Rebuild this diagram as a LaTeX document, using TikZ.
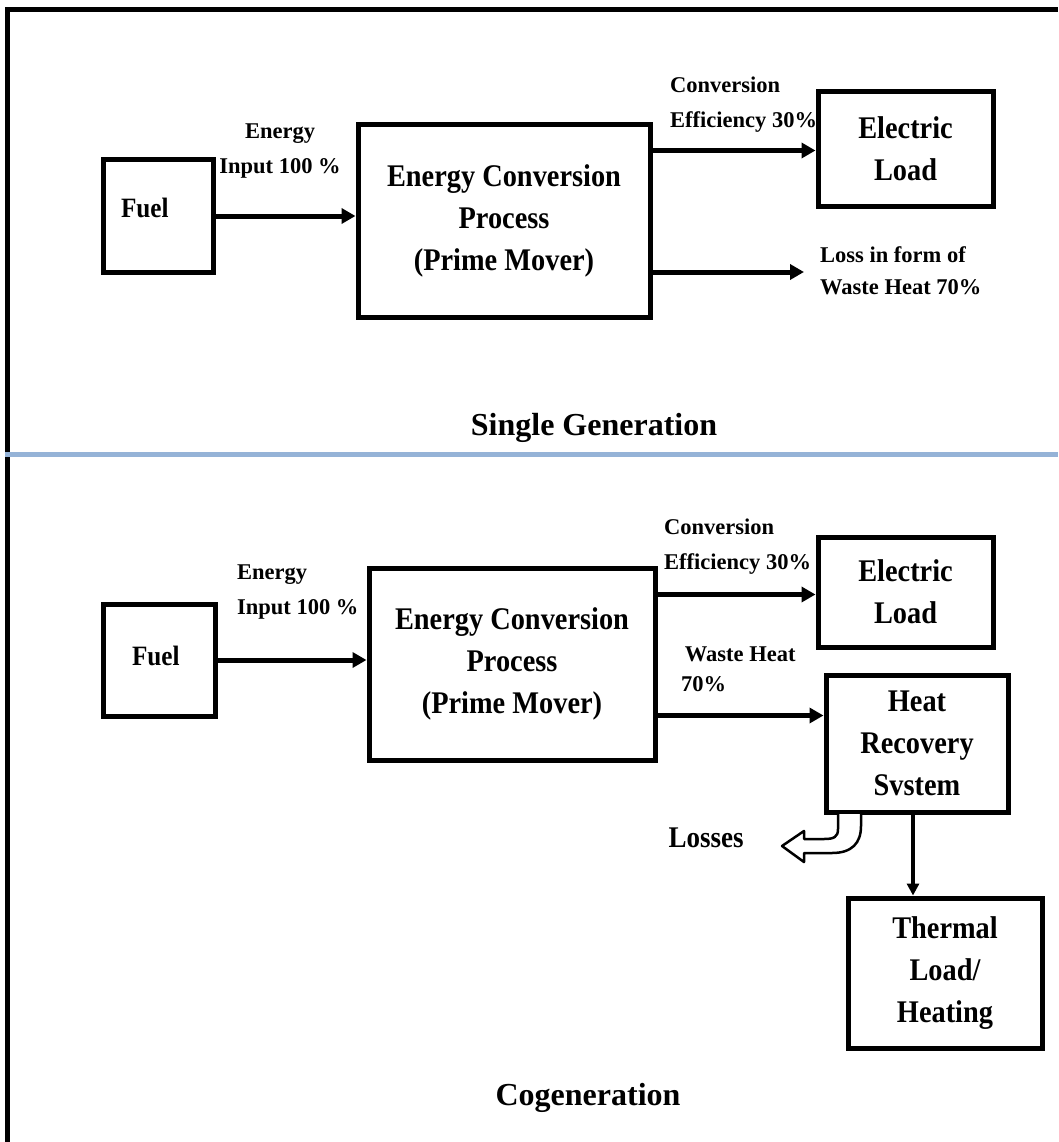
\documentclass[tikz,border=0pt]{standalone}
\usepackage{fontspec}
\setmainfont{Liberation Serif}
\newfontfamily\narrowserif{Liberation Serif}[FakeStretch=0.9]
\usetikzlibrary{arrows.meta}
\definecolor{sepblue}{RGB}{149,179,215}
\newcommand\bigtxt{\narrowserif\fontsize{31.5}{42}\selectfont\bfseries}
\newcommand\fueltxt{\narrowserif\fontsize{28}{32}\selectfont\bfseries}
\newcommand\smalltxt{\fontsize{22.5}{35}\selectfont\bfseries}
\newcommand\titletxt{\fontsize{32}{38}\selectfont\bfseries}
\begin{document}
\begin{tikzpicture}[x=1pt,y=-1pt,
	box/.style={draw,line width=5pt,align=center,inner sep=0pt,font=\bigtxt},
	lbl/.style={align=left,inner sep=0pt,font=\smalltxt},
	flow/.style={line width=5pt,-{Triangle[length=14pt,width=15pt]}},
	thin flow/.style={line width=3.5pt,-{Triangle[length=12pt,width=12pt]}},
	hollow/.style={line width=2.5pt,fill=white,line join=round}]
\useasboundingbox (0,0) rectangle (1058,1142);
% frame and separator
\draw[line width=5pt] (7,1142) -- (7,9.5) -- (1058,9.5);
\draw[line width=5pt,sepblue] (5,454.5) -- (1058,454.5);

% single generation
\node[box,minimum width=110pt,minimum height=112pt,
	label={[font=\fueltxt,anchor=west,xshift=17pt,yshift=8pt]west:Fuel}] (fuel1) at (158,216) {};
\node[box,minimum width=292pt,minimum height=192pt] (ecp1) at (504,221) {Energy Conversion\\Process\\(Prime Mover)};
\node[box,minimum width=175pt,minimum height=114pt] (elec1) at (905.5,149) {Electric\\Load};
\coordinate (loss1) at (804,272);
\draw[flow] (fuel1.east) -- (fuel1.east -| ecp1.west);
\draw[flow] ([yshift=-28pt]ecp1.north east) -- ([yshift=-28pt]ecp1.north east -| elec1.west);
\draw[flow] (ecp1.east |- loss1) -- (loss1);
\node[lbl,align=center] (in1) at (280,151) {Energy\\Input 100 \%};
\node[lbl,anchor=west] (eff1) at (670,105) {Conversion\\Efficiency 30\%};
\node[lbl,anchor=west,font=\fontsize{22.5}{32}\selectfont\bfseries] (waste1) at (820,271) {Loss in form of\\Waste Heat 70\%};
\node[font=\titletxt] (title1) at (594,428) {Single Generation};

% cogeneration
\node[box,minimum width=112pt,minimum height=112pt,
	label={[font=\fueltxt,anchor=west,xshift=28pt,yshift=4pt]west:Fuel}] (fuel2) at (159,660) {};
\node[box,minimum width=286pt,minimum height=192pt] (ecp2) at (512,664) {Energy Conversion\\Process\\(Prime Mover)};
\node[box,minimum width=175pt,minimum height=110pt] (elec2) at (905.5,592) {Electric\\Load};
\node[box,minimum width=182pt,minimum height=137pt] (hrs) at (917,743.5) {Heat\\Recovery\\Svstem};
\node[box,minimum width=194pt,minimum height=150pt] (therm) at (945,973) {Thermal\\Load/\\Heating};
\draw[flow] (fuel2.east) -- (fuel2.east -| ecp2.west);
\draw[flow] ([yshift=-29pt]ecp2.north east) -- ([yshift=-29pt]ecp2.north east -| elec2.west);
\draw[flow] ([yshift=-150pt]ecp2.north east) -- ([yshift=-150pt]ecp2.north east -| hrs.west);
\draw[thin flow] ([xshift=-4pt]hrs.south) -- ([xshift=-4pt]hrs.south |- therm.north);
\node[lbl,anchor=west] (in2) at (237,592) {Energy\\Input 100 \%};
\node[lbl,anchor=west] (eff2) at (664,547) {Conversion\\Efficiency 30\%};
\node[lbl,anchor=west,font=\fontsize{22.5}{30}\selectfont\bfseries] (waste2) at (681,669) {\,Waste Heat\\70\%};
% losses leaving the heat recovery system
\draw[hollow] (838,814) -- (838,829) .. controls (838,837) and (834,839) .. (824,839)
	-- (804,839) -- (804,831) -- (782,846) -- (804,862) -- (804,853) -- (832,853)
	.. controls (852,853) and (861,843) .. (861,826) -- (861,814);
\node[font=\narrowserif\fontsize{30}{34}\selectfont\bfseries] (losses) at (706,838) {Losses};
\node[font=\titletxt] (title2) at (588,1098) {Cogeneration};
\end{tikzpicture}
\end{document}
